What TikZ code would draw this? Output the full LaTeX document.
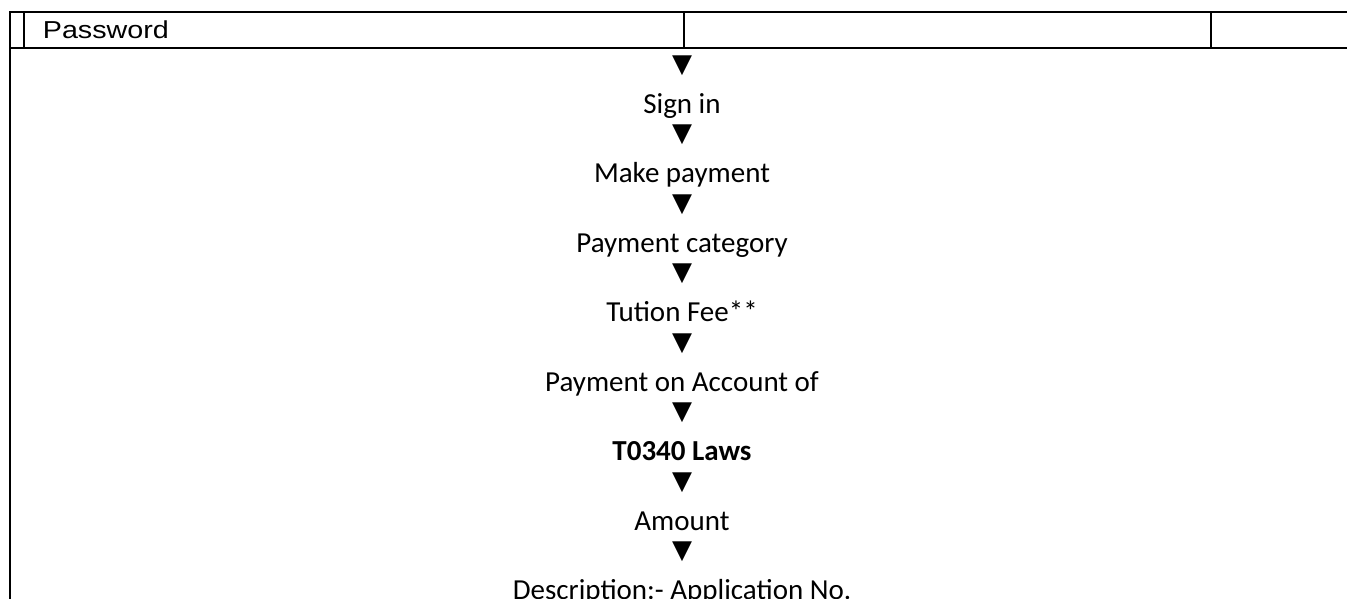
\documentclass[tikz,border=0pt]{standalone}
\usepackage{fontspec}
\setmainfont{Carlito}
\newfontfamily\pwfont{Liberation Sans}
\newfontfamily\symfont{DejaVu Sans}
\begin{document}
\begin{tikzpicture}[x=1pt,y=-1pt,
  grid/.style={line width=2pt,line cap=rect},
  gridthick/.style={line width=2.5pt},
  steptext/.style={font=\fontsize{29}{35}\selectfont,anchor=base,inner sep=0pt},
  arrowglyph/.style={font=\symfont\fontsize{26}{26}\selectfont,inner sep=0pt,anchor=center}]
\useasboundingbox (0,0) rectangle (1347,599);
% table lines
\draw[grid] (10,12) -- (1350,12);
\draw[gridthick] (10,48) -- (1350,48);
\draw[grid] (10,12) -- (10,602);
\draw[grid] (24.3,12) -- (24.3,48);
\draw[grid] (683.7,12) -- (683.7,48);
\draw[grid] (1211.3,12) -- (1211.3,48);
\node[font=\pwfont\fontsize{24.5}{28}\selectfont,anchor=base west,inner sep=0pt] (pw) at (42.7,38.3) {\scalebox{1.17}[1]{Password}};
% flow
\node[arrowglyph] (a1) at (682,65.5) {▼};
\node[steptext] (t1) at (682,113.3) {Sign in};
\node[arrowglyph] (a2) at (682,135.0) {▼};
\node[steptext] (t2) at (682,182.8) {Make payment};
\node[arrowglyph] (a3) at (682,204.5) {▼};
\node[steptext] (t3) at (682,252.3) {Payment category};
\node[arrowglyph] (a4) at (682,274.0) {▼};
\node[steptext] (t4) at (682,321.8) {Tution Fee**};
\node[arrowglyph] (a5) at (682,343.5) {▼};
\node[steptext] (t5) at (682,391.3) {Payment on Account of};
\node[arrowglyph] (a6) at (682,413.0) {▼};
\node[steptext,font=\bfseries\fontsize{29}{35}\selectfont] (t6) at (682,460.8) {T0340 Laws};
\node[arrowglyph] (a7) at (682,482.5) {▼};
\node[steptext] (t7) at (682,530.3) {Amount};
\node[arrowglyph] (a8) at (682,552.0) {▼};
\node[steptext] (t8) at (682,599.8) {Description:- Application No.};
\end{tikzpicture}
\end{document}
